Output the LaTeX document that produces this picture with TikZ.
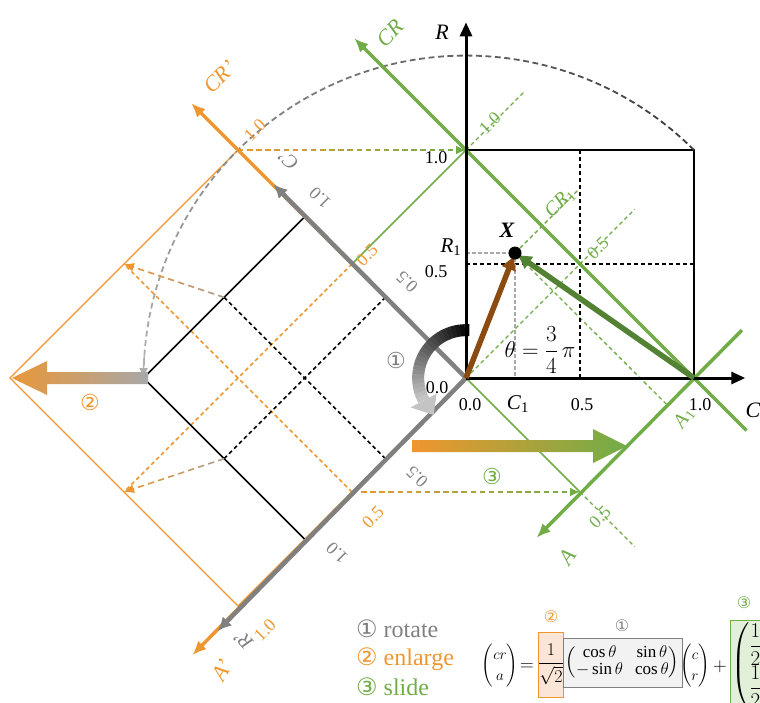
\documentclass[tikz,border=0pt]{standalone}
\usepackage{fix-cm}
\usepackage{amsmath}
\usepackage{fontspec}
\setmainfont{Liberation Serif}
\newfontfamily\symf{DejaVu Sans}
\usetikzlibrary{arrows.meta,calc}
\definecolor{myor}{HTML}{F0962E}
\definecolor{mygr}{HTML}{70AD47}
\definecolor{mydg}{HTML}{548235}
\definecolor{mybr}{HTML}{8B4A0F}
\definecolor{mygy}{HTML}{808080}
\definecolor{lgy}{HTML}{A8A8A8}
\definecolor{arcd}{HTML}{3A3A3A}
\definecolor{arcl}{HTML}{B0B0B0}
\definecolor{rotd}{HTML}{000000}
\definecolor{rotl}{HTML}{C4C4C4}
\definecolor{orgy}{HTML}{A89C90}
\definecolor{orfill}{HTML}{FBE5D6}
\definecolor{gyfill}{HTML}{F2F2F2}
\definecolor{grfill}{HTML}{E2F0D9}
\newcommand{\fsz}[1]{\fontsize{#1}{#1}\selectfont}
\newcommand{\gradline}[6]{%
  \foreach \k in {1,...,#5}{%
    \pgfmathsetmacro{\gla}{(\k-1)/#5}%
    \pgfmathsetmacro{\glb}{(\k-0.4)/#5}%
    \pgfmathtruncatemacro{\glp}{100-100*(\k-0.5)/#5}%
    \draw[#6, #3!\glp!#4] ($(#1)!\gla!(#2)$) -- ($(#1)!\glb!(#2)$);
  }%
  \draw[#6, #4, -{Latex[length=10pt,width=9pt]}] ($(#1)!0.985!(#2)$) -- (#2);
}
\tikzset{
  lab/.style={font=\fsz{18}, inner sep=0pt},
  glab/.style={lab, text=mygy, rotate=135},
  olab/.style={lab, text=myor, rotate=45},
  nlab/.style={lab, text=mygr, rotate=45},
  axl/.style={font=\fsz{22}\itshape, inner sep=0pt},
  thinbk/.style={line width=1.6pt},
  dsh/.style={dash pattern=on 4pt off 3pt, line width=1.5pt},
  gdsh/.style={dash pattern=on 4pt off 3pt, line width=1.3pt},
  gline/.style={line width=1.6pt}
}
\begin{document}
\begin{tikzpicture}[x=1pt,y=1pt]
\useasboundingbox (0,0) rectangle (760,-702);
\begin{scope}[shift={(466pt,-378pt)}, x=228pt, y=228pt]
\coordinate (O) at (0,0);
\coordinate (E1) at (1,0); \coordinate (N1) at (0,1); \coordinate (S11) at (1,1);
\coordinate (Eh) at (0.5,0); \coordinate (Nh) at (0.5,1);
\coordinate (Wh) at (0,0.5); \coordinate (Hh) at (1,0.5);
\coordinate (Xp) at (0.215,0.548);
\coordinate (XC) at (0.215,0); \coordinate (XR) at (0,0.548);
\coordinate (P1) at (-0.7071,0.7071); \coordinate (P2) at (-1.4142,0); \coordinate (P3) at (-0.7071,-0.7071);
\coordinate (M01) at (-0.3536,0.3536); \coordinate (M03) at (-0.3536,-0.3536);
\coordinate (M12) at (-1.0607,0.3536); \coordinate (M23) at (-1.0607,-0.3536);
\coordinate (Q1) at (-1,1); \coordinate (Q2) at (-2,0); \coordinate (Q3) at (-1,-1);
\coordinate (Q01) at (-0.5,0.5); \coordinate (Q03) at (-0.5,-0.5);
\coordinate (Q12) at (-1.5,0.5); \coordinate (Q23) at (-1.5,-0.5);
\coordinate (G05a) at (0.5,-0.5); \coordinate (G05ae) at (0.74,-0.74);
\coordinate (G10e) at (0.26,1.26); \coordinate (G05c) at (0.74,0.74);
\coordinate (CRlo) at (1.23,-0.23); \coordinate (CRtip) at (-0.49,1.49);
\coordinate (Ahi) at (1.21,0.21); \coordinate (Atip) at (0.31,-0.70);
\coordinate (A1p) at (0.882,-0.118); \coordinate (CR1e) at (0.50,0.833);
\coordinate (Ctip) at (1.225,0); \coordinate (Rtip) at (0,1.56);
\coordinate (Cgt) at (-0.845,0.85); \coordinate (Rgt) at (-1.09,-1.11);
\coordinate (Cot) at (-1.205,1.205); \coordinate (Rot) at (-1.2,-1.215);

% orange square and grid
\draw[myor, line width=1.3pt] (O) -- (Q1) -- (Q2) -- (Q3) -- cycle;
\draw[myor, dsh] (Q01) -- (Q23);
\draw[myor, dsh] (Q03) -- (Q12);
% green thin lines
\draw[mygr, gline] (N1) -- (Q01);
\draw[mygr, gline] (Q01) -- (G05a);
\draw[mygr, gdsh] (N1) -- (G10e);
\draw[mygr, gdsh] (G05a) -- (G05ae);
\draw[mygr, gdsh] (O) -- (G05c);
\draw[mygr, gdsh] (Xp) -- (CR1e);
\draw[mygr, gdsh] (Xp) -- (A1p);
% main square
\draw[thinbk] (N1) -- (S11) -- (E1);
\draw[dsh] (Eh) -- (Nh);
\draw[dsh] (Wh) -- (Hh);
% rotated square
\draw[thinbk] (P1) -- (P2) -- (P3);
\draw[dsh] (M01) -- (M23);
\draw[dsh] (M03) -- (M12);
% projections of X
\draw[lgy, dash pattern=on 4pt off 2pt, line width=1.3pt] (XR) -- (Xp) -- (XC);
% rotation arc (dashed, gradient)
\foreach \k in {0,...,79}{%
  \pgfmathsetmacro{\arA}{45+\k*1.6875}%
  \pgfmathsetmacro{\arB}{\arA+1.05}%
  \pgfmathtruncatemacro{\glp}{100-100*\k/79}%
  \draw[arcd!\glp!arcl, line width=1.8pt] ([shift={(\arA:1.4142)}]O) arc[start angle=\arA, end angle=\arB, radius=1.4142];
}
\draw[arcl, line width=1.5pt, -{Latex[length=10pt,width=9pt]}] ([shift={(176:1.4142)}]O) arc[start angle=176, end angle=180, radius=1.4142];
% dashed gradient arrows
\gradline{Q1}{N1}{myor}{mygr}{25}{line width=1.8pt}
\gradline{Q03}{G05a}{myor}{mygr}{25}{line width=1.8pt}
\gradline{M12}{Q12}{orgy}{myor}{10}{line width=1.6pt}
\gradline{M23}{Q23}{orgy}{myor}{10}{line width=1.6pt}
% thick rotated axes
\draw[myor, line width=3.5pt, -{Latex[length=14pt,width=12pt]}] (O) -- (Cot);
\draw[myor, line width=3.5pt, -{Latex[length=14pt,width=12pt]}] (O) -- (Rot);
\draw[mygy, line width=4.5pt, -{Latex[length=14pt,width=13pt]}] (O) -- (Cgt);
\draw[mygy, line width=4.5pt, -{Latex[length=14pt,width=13pt]}] (O) -- (Rgt);
% green axes
\draw[mygr, line width=3.5pt, -{Latex[length=14pt,width=12pt]}] (CRlo) -- (CRtip);
\draw[mygr, line width=3.5pt, -{Latex[length=14pt,width=12pt]}] (Ahi) -- (Atip);
% main axes
\draw[line width=3pt, -{Triangle[length=14pt,width=12pt]}] (O) -- (Ctip);
\draw[line width=3pt, -{Triangle[length=14pt,width=12pt]}] (O) -- (Rtip);
% vectors
\draw[mybr, line width=5.5pt, shorten >=4pt, -{Triangle[length=13pt,width=14pt]}] (O) -- (Xp);
\draw[mydg, line width=5.5pt, shorten >=4pt, -{Triangle[length=13pt,width=14pt]}] (E1) -- (Xp);
\fill (Xp) circle[radius=6.5pt];
% rotation arrow 1
\foreach \k in {0,...,22}{%
  \pgfmathsetmacro{\arA}{86+\k*5.27}%
  \pgfmathsetmacro{\arB}{\arA+6}%
  \pgfmathtruncatemacro{\glp}{100-100*\k/22}%
  \draw[rotd!\glp!rotl, line width=12pt] ([shift={(\arA:0.21)}]O) arc[start angle=\arA, end angle=\arB, radius=0.21];
}
\fill[rotl] (-0.2430,-0.1290) -- (-0.1290,-0.0690) -- (-0.1420,-0.1620) -- cycle;
\end{scope}

% big gradient arrows
\shade[left color=myor!90!orgy, right color=lgy] (148,-372) -- (47,-372) -- (47,-361) -- (12,-378) -- (47,-395) -- (47,-384) -- (148,-384) -- cycle;
\shade[left color=myor, right color=mygr] (412,-440) -- (593,-440) -- (593,-429) -- (627,-446) -- (593,-463) -- (593,-452) -- (412,-452) -- cycle;

% black labels
\node[axl] (lR) at (442,-32) {R};
\node[axl] (lC) at (753,-410) {C};
\node[lab] (l10r) at (436,-158) {1.0};
\node[lab] (l05r) at (436,-272) {0.5};
\node[lab] (l00a) at (437,-388) {0.0};
\node[lab] (l00b) at (470,-405) {0.0};
\node[lab] (l05c) at (582,-405) {0.5};
\node[lab] (l10c) at (700,-405) {1.0};
\node[lab, font=\fsz{21}] (lR1) at (451,-247) {\textit{R}\textsubscript{1}};
\node[lab, font=\fsz{21}] (lC1) at (518,-404) {\textit{C}\textsubscript{1}};
\node[inner sep=0pt, font=\fsz{22}\bfseries\itshape] (lX) at (507,-230) {X};
\node[inner sep=0pt, font=\fsz{23}] (lth) at (540,-350) {$\theta=\dfrac{3}{4}\,\pi$};
% grey labels
\node[glab, font=\fsz{20}] (gC) at (288,-160) {\textit{C}’};
\node[glab] (g10) at (320,-198) {1.0};
\node[glab] (g05) at (407,-282) {0.5};
\node[glab] (g05b) at (417,-477) {0.5};
\node[glab] (g10b) at (337,-553) {1.0};
\node[glab, font=\fsz{20}] (gR) at (243,-640) {\textit{R}’};
\node[text=mygy, font=\symf\fsz{22}, inner sep=0pt] (c1) at (396,-360) {①};
% orange labels
\node[olab, font=\fsz{22}\itshape] (oCR) at (220,-77) {CR’};
\node[olab] (o10) at (255,-130) {1.0};
\node[olab] (o05) at (367,-255) {0.5};
\node[olab] (o05b) at (373,-517) {0.5};
\node[olab] (o10b) at (265,-630) {1.0};
\node[olab, rotate=15, font=\fsz{22}\itshape] (oA) at (222,-670) {A’};
\node[text=myor, font=\symf\fsz{22}, inner sep=0pt] (c2) at (90,-402) {②};
% green labels
\node[nlab, font=\fsz{22}\itshape] (nCR) at (390,-33) {CR};
\node[nlab] (n10) at (490,-123) {1.0};
\node[nlab, font=\fsz{20}] (nCR1) at (560,-203) {\textit{CR}\textsubscript{1}};
\node[nlab] (n05) at (598,-248) {0.5};
\node[nlab] (n05b) at (600,-517) {0.5};
\node[nlab, rotate=10, font=\fsz{22}\itshape] (nA) at (567,-557) {A};
\node[nlab, rotate=10, font=\fsz{20}] (nA1) at (684,-418) {\textit{A}\textsubscript{1}};
\node[text=mygr, font=\symf\fsz{22}, inner sep=0pt] (c3) at (492,-476) {③};

% legend
\node[anchor=west, text=mygy, font=\fsz{24}, inner sep=0pt] (lg1) at (356,-629) {{\symf ①} rotate};
\node[anchor=west, text=myor, font=\fsz{24}, inner sep=0pt] (lg2) at (356,-659) {{\symf ②} enlarge};
\node[anchor=west, text=mygr, font=\fsz{24}, inner sep=0pt] (lg3) at (356,-687) {{\symf ③} slide};

% equation
\node[font=\fsz{15}, inner sep=0pt] (eqL) at (500,-666) {$\dbinom{cr}{a}$};
\node[font=\fsz{19}, inner sep=0pt] (eqE) at (527,-667) {$=$};
\node[draw=myor, fill=orfill, line width=1pt, minimum width=24pt, minimum height=65pt, inner sep=0pt, font=\fsz{18}] (bx2) at (551,-664.5) {$\dfrac{1}{\sqrt{2}}$};
\node[text=myor, font=\symf\fsz{16}, inner sep=0pt] (bx2n) at (551,-617) {②};
\node[draw=mygy, fill=gyfill, line width=1pt, minimum width=119pt, minimum height=49pt, inner sep=0pt, font=\fontsize{17}{17}\selectfont] (bx1) at (622.5,-662.5) {\setlength{\arraycolsep}{6pt}$\begin{pmatrix}\cos\theta & \sin\theta\\ -\sin\theta & \cos\theta\end{pmatrix}$};
\node[text=mygy, font=\symf\fsz{16}, inner sep=0pt] (bx1n) at (622,-626) {①};
\node[font=\fsz{15}, inner sep=0pt] (eqV) at (695,-666) {$\dbinom{c}{r}$};
\node[font=\fsz{19}, inner sep=0pt] (eqP) at (720,-667) {$+$};
\draw[draw=mygr, fill=grfill, line width=1pt] (730,-620) rectangle (800,-720);
\node[anchor=north west, font=\fontsize{21}{24}\selectfont, inner sep=0pt] (bx3) at (731,-622) {$\left(\begin{matrix}\dfrac{1}{2}\\[3pt]\dfrac{1}{2}\end{matrix}\right)$};
\node[text=mygr, font=\symf\fsz{16}, inner sep=0pt] (bx3n) at (744,-603) {③};
\end{tikzpicture}
\end{document}
